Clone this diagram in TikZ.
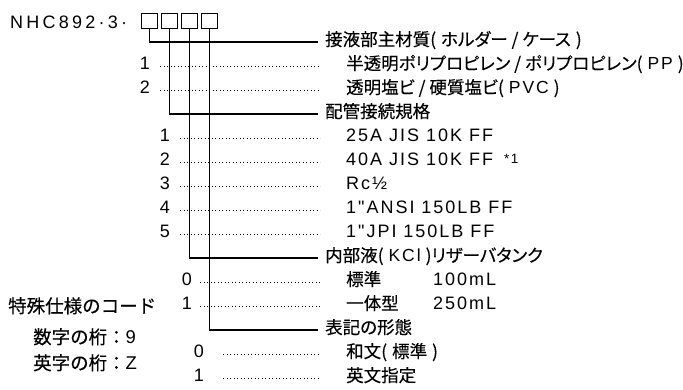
\documentclass[tikz,border=0pt]{standalone}
\usepackage{fontspec}
\setmainfont{Liberation Sans}
\newfontfamily\jp[RawFeature=+palt,FakeBold=0.3]{Noto Sans CJK JP}
\newfontfamily\jpf[FakeBold=0.3]{Noto Sans CJK JP}
\newfontfamily\lat[LetterSpace=11]{Liberation Sans}
\newfontfamily\ttl[LetterSpace=18]{Liberation Sans}
\newcommand\lt[1]{{\lat #1}}
\newcommand\op{(\hspace{5pt}}
\newcommand\cp{\hspace{5pt})}
\begin{document}
\begin{tikzpicture}[x=1pt,y=-1pt,
  lbl/.style={anchor=west,inner sep=0pt,text height=0.76em,text depth=0pt},
  num/.style={anchor=east,inner sep=0pt,text height=0.72em,text depth=0pt,font=\lat\fontsize{18}{20}\selectfont},
  cj/.style={font=\jp\fontsize{17.5}{20}\selectfont},
  la/.style={font=\lat\fontsize{18}{20}\selectfont},
  conn/.style={line width=1.1pt},
  dotl/.style={line width=0.9pt,dash pattern=on 0.9pt off 2.6pt},
  sq/.style={draw,line width=0.7pt,minimum size=15.5pt,inner sep=0pt,anchor=north west}
]
\useasboundingbox (0,0) rectangle (683,389);
% title
\node[anchor=base west,inner sep=0pt,font=\ttl\fontsize{18}{20}\selectfont] (title) at (10,28.3) {NHC892·3·};
\node[sq] (b1) at (141,12.7) {};
\node[sq] (b2) at (161,12.7) {};
\node[sq] (b3) at (181,12.7) {};
\node[sq] (b4) at (201,12.7) {};
% headers
\node[lbl,cj] (h1) at (325,42) {接液部主材質\op ホルダー / ケース\cp};
\node[lbl,cj] (h2) at (325,114) {配管接続規格};
\node[lbl,cj] (h3) at (325,258) {内部液\op\lt{KCl}\cp リザーバタンク};
\node[lbl,cj] (h4) at (325,330) {表記の形態};
\draw[conn] (b1.south) |- ([xshift=-7pt]h1.west);
\draw[conn] (b2.south) |- ([xshift=-7pt]h2.west);
\draw[conn] (b3.south) |- ([xshift=-7pt]h3.west);
\draw[conn] (b4.south) |- ([xshift=-7pt]h4.west);
% group 1
\node[num] (n11) at (150,66) {1};
\node[num] (n12) at (150,90) {2};
\node[lbl,cj] (s11) at (346,66) {半透明ポリプロピレン / ポリプロピレン\op\lt{PP}\cp};
\node[lbl,cj] (s12) at (346,90) {透明塩ビ / 硬質塩ビ\op\lt{PVC}\cp};
\draw[dotl] ([xshift=10pt]n11.east) -- ([xshift=-26pt]s11.west);
\draw[dotl] ([xshift=10pt]n12.east) -- ([xshift=-26pt]s12.west);
% group 2
\node[num] (n21) at (170,138) {1};
\node[num] (n22) at (170,162) {2};
\node[num] (n23) at (170,186) {3};
\node[num] (n24) at (170,210) {4};
\node[num] (n25) at (170,234) {5};
\node[lbl,la] (s21) at (346,138) {25A JIS 10K FF};
\node[lbl,la] (s22) at (346,162) {40A JIS 10K FF};
\node[anchor=base west,inner sep=0pt,font=\lat\fontsize{13.5}{14}\selectfont] (s22n) at (504,163.5) {*1};
\node[lbl,la] (s23) at (346,186) {Rc½};
\node[lbl,la] (s24) at (346,210) {1"ANSI 150LB FF};
\node[lbl,la] (s25) at (346,234) {1"JPI 150LB FF};
\foreach \i in {1,...,5}{
  \draw[dotl] ([xshift=10pt]n2\i.east) -- ([xshift=-26pt]s2\i.west);
}
% group 3
\node[num] (n31) at (192,282) {0};
\node[num] (n32) at (192,306) {1};
\node[lbl,cj] (s31) at (346,282) {標準};
\node[lbl,la] (s31b) at (433,282) {100mL};
\node[lbl,cj] (s32) at (346,306) {一体型};
\node[lbl,la] (s32b) at (433,306) {250mL};
\draw[dotl] ([xshift=8pt]n31.east) -- ([xshift=-26pt]s31.west);
\draw[dotl] ([xshift=8pt]n32.east) -- ([xshift=-26pt]s32.west);
% group 4
\node[num] (n41) at (204,354) {0};
\node[num] (n42) at (204,378) {1};
\node[lbl,cj] (s41) at (346,354) {和文\op 標準\cp};
\node[lbl,cj] (s42) at (346,378) {英文指定};
\draw[dotl] ([xshift=19pt]n41.east) -- ([xshift=-26pt]s41.west);
\draw[dotl] ([xshift=19pt]n42.east) -- ([xshift=-26pt]s42.west);
% special code
\node[lbl,font=\jpf\fontsize{18.5}{20}\selectfont] (sp1) at (8,309) {特殊仕様のコード};
\node[lbl,font=\jpf\fontsize{18.5}{20}\selectfont] (sp2) at (33,340) {数字の桁：\lt{9}};
\node[lbl,font=\jpf\fontsize{18.5}{20}\selectfont] (sp3) at (33,366) {英字の桁：\lt{Z}};
\end{tikzpicture}
\end{document}
